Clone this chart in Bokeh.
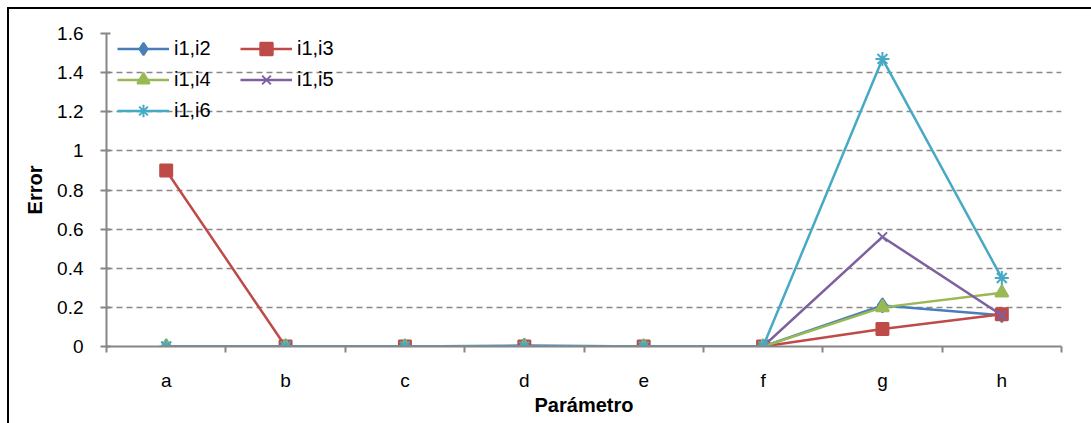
import numpy as np
from bokeh.plotting import figure
from bokeh.models import (Range1d, FixedTicker, Legend, LegendItem)
from bokeh.embed import file_html
from bokeh.resources import INLINE

categories = ["a", "b", "c", "d", "e", "f", "g", "h"]
i1_i2 = [0.0, 0.0, 0.0, 0.005, 0.0, 0.0, 0.21, 0.16]
i1_i3 = [0.90, 0.0, 0.0, 0.0, 0.0, 0.0, 0.09, 0.165]
i1_i4 = [0.0, 0.0, 0.0, 0.0, 0.0, 0.0, 0.20, 0.275]
i1_i5 = [0.0, 0.0, 0.0, 0.0, 0.0, 0.0, 0.56, 0.16]
i1_i6 = [0.0, 0.0, 0.0, 0.0, 0.0, 0.0, 1.47, 0.35]
y_ticks = [0, 0.2, 0.4, 0.6, 0.8, 1.0, 1.2, 1.4, 1.6]
y_tick_labels = ["0", "0.2", "0.4", "0.6", "0.8", "1", "1.2", "1.4", "1.6"]

FONT = "Liberation Sans"
xs = np.arange(len(categories)) + 0.5

p = figure(width=1091, height=423, output_backend="svg", toolbar_location=None,
           x_range=Range1d(0, len(categories)), y_range=Range1d(0, 1.6),
           min_border_left=106, min_border_right=30, min_border_top=33, min_border_bottom=77)
# chart-area frame: top and left edges drawn by inset shadows behind a transparent border area
p.styles = {"background-color": "white",
            "box-shadow": "inset 7px 7px 0px 0px white, inset 9px 9px 0px 0px black"}
p.outline_line_color = None
p.background_fill_color = "white"
p.border_fill_alpha = 0

# axes
xa = p.xaxis[0]
xa.ticker = FixedTicker(ticks=list(xs), minor_ticks=list(range(len(categories) + 1)))
xa.major_label_overrides = {float(x): c for x, c in zip(xs, categories)}
xa.major_tick_out = 0
xa.major_tick_in = 0
xa.minor_tick_out = 6
xa.minor_tick_in = 0
xa.minor_tick_line_color = "#868686"
xa.minor_tick_line_width = 2
xa.axis_line_color = "#868686"
xa.axis_line_width = 2
xa.major_label_text_font = FONT
xa.major_label_text_font_size = "19px"
xa.major_label_text_color = "black"
xa.major_label_standoff = 17
xa.axis_label = "Parámetro"
xa.axis_label_text_font = FONT
xa.axis_label_text_font_style = "bold"
xa.axis_label_text_font_size = "20px"
xa.axis_label_text_color = "black"
xa.axis_label_standoff = 0

ya = p.yaxis[0]
ya.ticker = FixedTicker(ticks=y_ticks, minor_ticks=[])
ya.major_label_overrides = {float(t): l for t, l in zip(y_ticks, y_tick_labels)}
ya.major_tick_out = 6
ya.major_tick_in = 4
ya.major_tick_line_color = "#868686"
ya.major_tick_line_width = 2
ya.minor_tick_out = 0
ya.minor_tick_in = 0
ya.axis_line_color = "#868686"
ya.axis_line_width = 2
ya.major_label_text_font = FONT
ya.major_label_text_font_size = "19px"
ya.major_label_text_color = "black"
ya.major_label_standoff = 17
ya.axis_label = "Error"
ya.axis_label_text_font = FONT
ya.axis_label_text_font_style = "bold"
ya.axis_label_text_font_size = "20px"
ya.axis_label_text_color = "black"
ya.axis_label_standoff = 8

p.xgrid.grid_line_color = None
p.ygrid.grid_line_color = "#888888"
p.ygrid.grid_line_dash = "6 4"
p.ygrid.grid_line_width = 1.5

series = [
    ("i1,i2", i1_i2, "#4A7EBB", "diamond", 14),
    ("i1,i3", i1_i3, "#BE4B48", "square", 12),
    ("i1,i4", i1_i4, "#98B954", "triangle", 13),
    ("i1,i5", i1_i5, "#7D60A0", "x", 13),
    ("i1,i6", i1_i6, "#46AAC5", "asterisk", 14),
]

items = []
for name, ys, color, marker, size in series:
    r1 = p.line(xs, ys, line_color=color, line_width=2.5)
    r2 = p.scatter(xs, ys, marker=marker, size=size, fill_color=color,
                   line_color=color, line_width=2)
    items.append(LegendItem(label=name, renderers=[r1, r2]))

legend = Legend(items=items, location=(11, 220), orientation="horizontal", ncols=2,
                margin=0, padding=0, spacing=0, glyph_width=52, glyph_height=31,
                label_height=31, label_width=66, label_standoff=5,
                label_text_font=FONT, label_text_font_size="20px",
                label_text_color="black", background_fill_alpha=0,
                border_line_color=None)
p.add_layout(legend)

open("out.html", "w").write(file_html(p, INLINE))
